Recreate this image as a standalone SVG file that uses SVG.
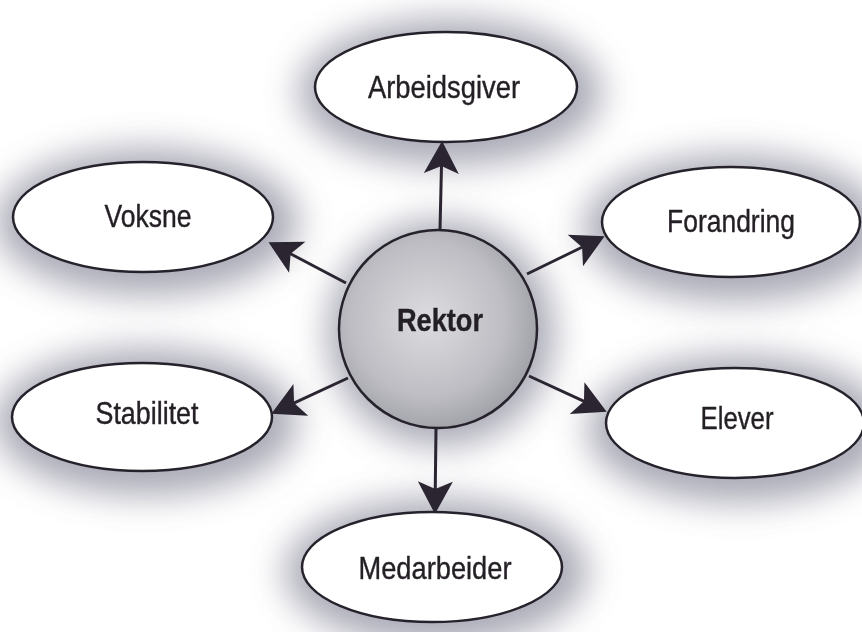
<svg xmlns="http://www.w3.org/2000/svg" width="862" height="632" viewBox="0 0 862 632">
<style>
.node{fill:#ffffff;stroke:#26222b;stroke-width:2.5}
.glow{fill:#9c9cab;filter:url(#blur)}
.lbl{font-family:"Liberation Sans",Arial,sans-serif;font-size:32px;fill:#231f24;stroke:#231f24;stroke-width:0.4;text-anchor:middle}
.bold{font-weight:bold}
.conn{stroke:#2a2530;stroke-width:3;fill:none;marker-end:url(#arr)}
</style>
<defs>
<filter id="blur" x="-50%" y="-50%" width="200%" height="200%"><feGaussianBlur stdDeviation="17"/></filter>
<radialGradient id="sphere" cx="0.45" cy="0.45" r="0.6">
<stop offset="0" stop-color="#dcdce0"/>
<stop offset="0.65" stop-color="#bdbdc3"/>
<stop offset="1" stop-color="#9c9ca4"/>
</radialGradient>
<marker id="arr" markerUnits="userSpaceOnUse" markerWidth="40" markerHeight="40" viewBox="-12 -16 30 32" refX="0" refY="0" orient="auto" overflow="visible">
<path d="M-10,-14 L16,0 L-10,14 L-4,0 z" fill="#2a2530"/>
</marker>
</defs>
<rect width="862" height="632" fill="#ffffff"/>
<g id="glows" opacity="0.85">
<ellipse class="glow" cx="450" cy="92" rx="152" ry="74"/>
<ellipse class="glow" cx="147" cy="222" rx="152" ry="74"/>
<ellipse class="glow" cx="735" cy="228" rx="152" ry="74"/>
<ellipse class="glow" cx="146" cy="422" rx="152" ry="74"/>
<ellipse class="glow" cx="739" cy="429" rx="152" ry="74"/>
<ellipse class="glow" cx="436" cy="572" rx="152" ry="74"/>
<circle class="glow" cx="441" cy="333" r="114"/>
</g>
<g id="connectors">
<line class="conn" x1="440" y1="230" x2="441.6" y2="161"/>
<line class="conn" x1="346" y1="283" x2="286.2" y2="251.5"/>
<line class="conn" x1="527" y1="274" x2="586.6" y2="245"/>
<line class="conn" x1="348" y1="378" x2="289.5" y2="405.2"/>
<line class="conn" x1="529" y1="376" x2="588.5" y2="403.3"/>
<line class="conn" x1="436" y1="428" x2="435.2" y2="494"/>
</g>
<g id="rektor">
<circle cx="438" cy="329" r="99" fill="url(#sphere)" stroke="#26222b" stroke-width="2.5"/>
<text class="lbl bold" x="440" y="331" textLength="86" lengthAdjust="spacingAndGlyphs">Rektor</text>
</g>
<g id="arbeidsgiver">
<ellipse class="node" cx="446" cy="87" rx="131" ry="55"/>
<text class="lbl" x="444" y="98" textLength="152" lengthAdjust="spacingAndGlyphs">Arbeidsgiver</text>
</g>
<g id="voksne">
<ellipse class="node" cx="143" cy="217" rx="130" ry="55"/>
<text class="lbl" x="148" y="227" textLength="87" lengthAdjust="spacingAndGlyphs">Voksne</text>
</g>
<g id="forandring">
<ellipse class="node" cx="731" cy="222" rx="129" ry="55"/>
<text class="lbl" x="731" y="232" textLength="128" lengthAdjust="spacingAndGlyphs">Forandring</text>
</g>
<g id="stabilitet">
<ellipse class="node" cx="142" cy="417" rx="130" ry="54"/>
<text class="lbl" x="147" y="424" textLength="103" lengthAdjust="spacingAndGlyphs">Stabilitet</text>
</g>
<g id="elever">
<ellipse class="node" cx="735" cy="423" rx="129" ry="55"/>
<text class="lbl" x="737" y="429" textLength="73" lengthAdjust="spacingAndGlyphs">Elever</text>
</g>
<g id="medarbeider">
<ellipse class="node" cx="432" cy="567" rx="130" ry="55"/>
<text class="lbl" x="435" y="579" textLength="153" lengthAdjust="spacingAndGlyphs">Medarbeider</text>
</g>
</svg>
